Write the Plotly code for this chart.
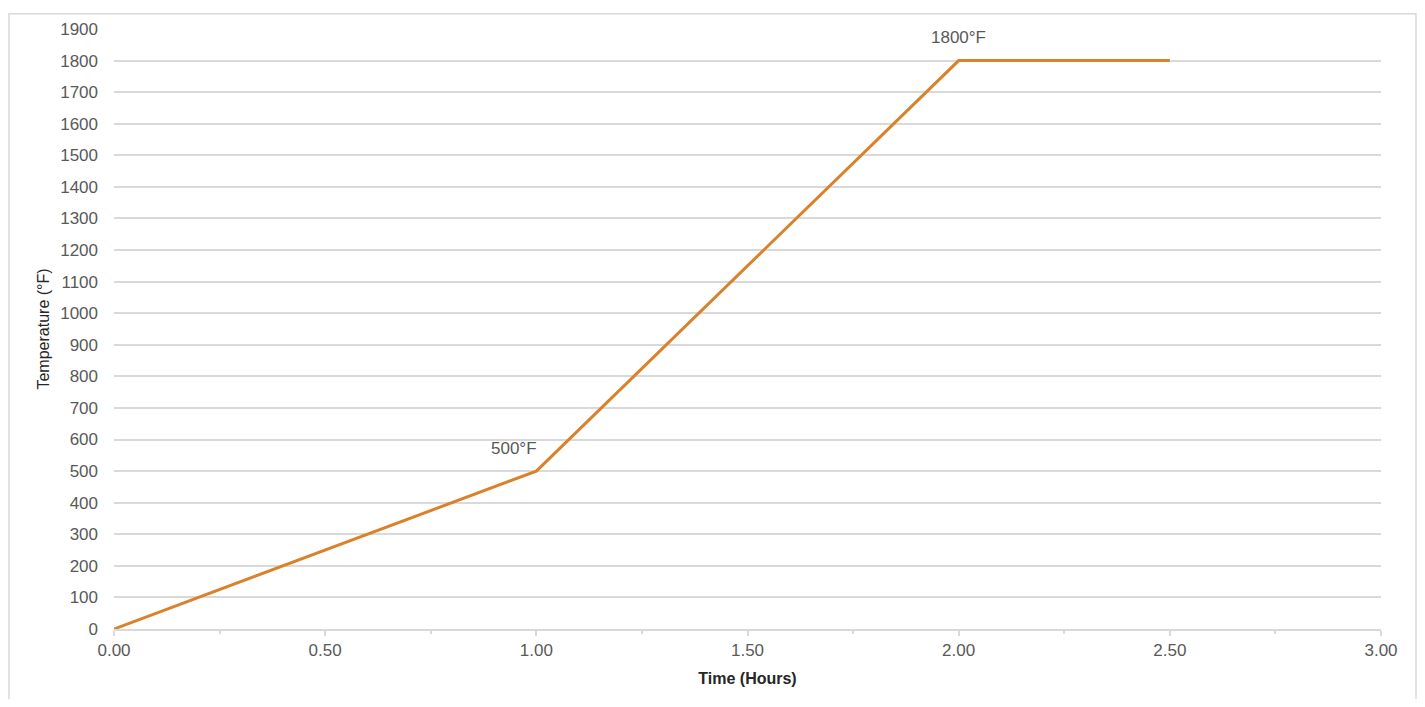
import plotly.graph_objects as go

time_hours = [0.0, 1.0, 2.0, 2.5]
temperature_f = [0, 500, 1800, 1800]
label_points_x = [1.0, 2.0]
label_points_y = [500, 1800]
label_texts = ["500°F", "1800°F"]

x_tickvals = [0, 0.5, 1.0, 1.5, 2.0, 2.5, 3.0]
x_ticktext = ["0.00", "0.50", "1.00", "1.50", "2.00", "2.50", "3.00"]
y_tickvals = list(range(0, 2000, 100))

font_family = "Liberation Sans, Arial, sans-serif"
grey = "#595959"
grid = "#d9d9d9"

W, H = 1409, 691
L, R, T, B = 106, 36, 16, 70

fig = go.Figure()
fig.add_trace(go.Scatter(
    x=time_hours, y=temperature_f, mode="lines",
    line=dict(color="#D9822B", width=3), showlegend=False, hoverinfo="skip"
))

shifts = [(-22, 23), (0, 23)]
for xv, yv, t, (dx, dy) in zip(label_points_x, label_points_y, label_texts, shifts):
    fig.add_annotation(x=xv, y=yv, text=t, showarrow=False, xshift=dx, yshift=dy,
                       font=dict(family=font_family, size=17, color=grey))

pw = W - L - R
ph = H - T - B
fig.add_shape(type="rect", xref="paper", yref="paper",
              x0=(1 - L) / pw, x1=(1408 - L) / pw,
              y0=-(B + 10) / ph, y1=(ph + T - 0.5) / ph,
              line=dict(color="#d9d9d9", width=1.5), layer="below")

fig.update_layout(
    width=W, height=H,
    margin=dict(l=L, r=R, t=T, b=B),
    plot_bgcolor="white", paper_bgcolor="white",
    font=dict(family=font_family, size=17, color=grey),
    xaxis=dict(
        range=[0, 3], tickvals=x_tickvals, ticktext=x_ticktext,
        showgrid=False, zeroline=False,
        showline=True, linecolor=grid, linewidth=1.5,
        ticks="outside", ticklen=5, tickcolor=grid, tickwidth=1.5,
        minor=dict(tickvals=[0.25, 0.75, 1.25, 1.75, 2.25, 2.75], ticks="outside",
                   ticklen=3, tickcolor=grid, showgrid=False),
        tickfont=dict(size=17, color=grey),
        title=dict(text="<b>Time (Hours)</b>", font=dict(size=16, color="#262626"), standoff=14),
    ),
    yaxis=dict(
        range=[0, 1900], tickvals=y_tickvals,
        showgrid=True, gridcolor=grid, gridwidth=1.5,
        zeroline=False, showline=False,
        ticks="", ticklabelstandoff=15,
        tickfont=dict(size=17, color=grey),
        title=dict(text="Temperature (°F)", font=dict(size=16, color="#262626"), standoff=6),
    ),
)

fig.write_html("out.html")
